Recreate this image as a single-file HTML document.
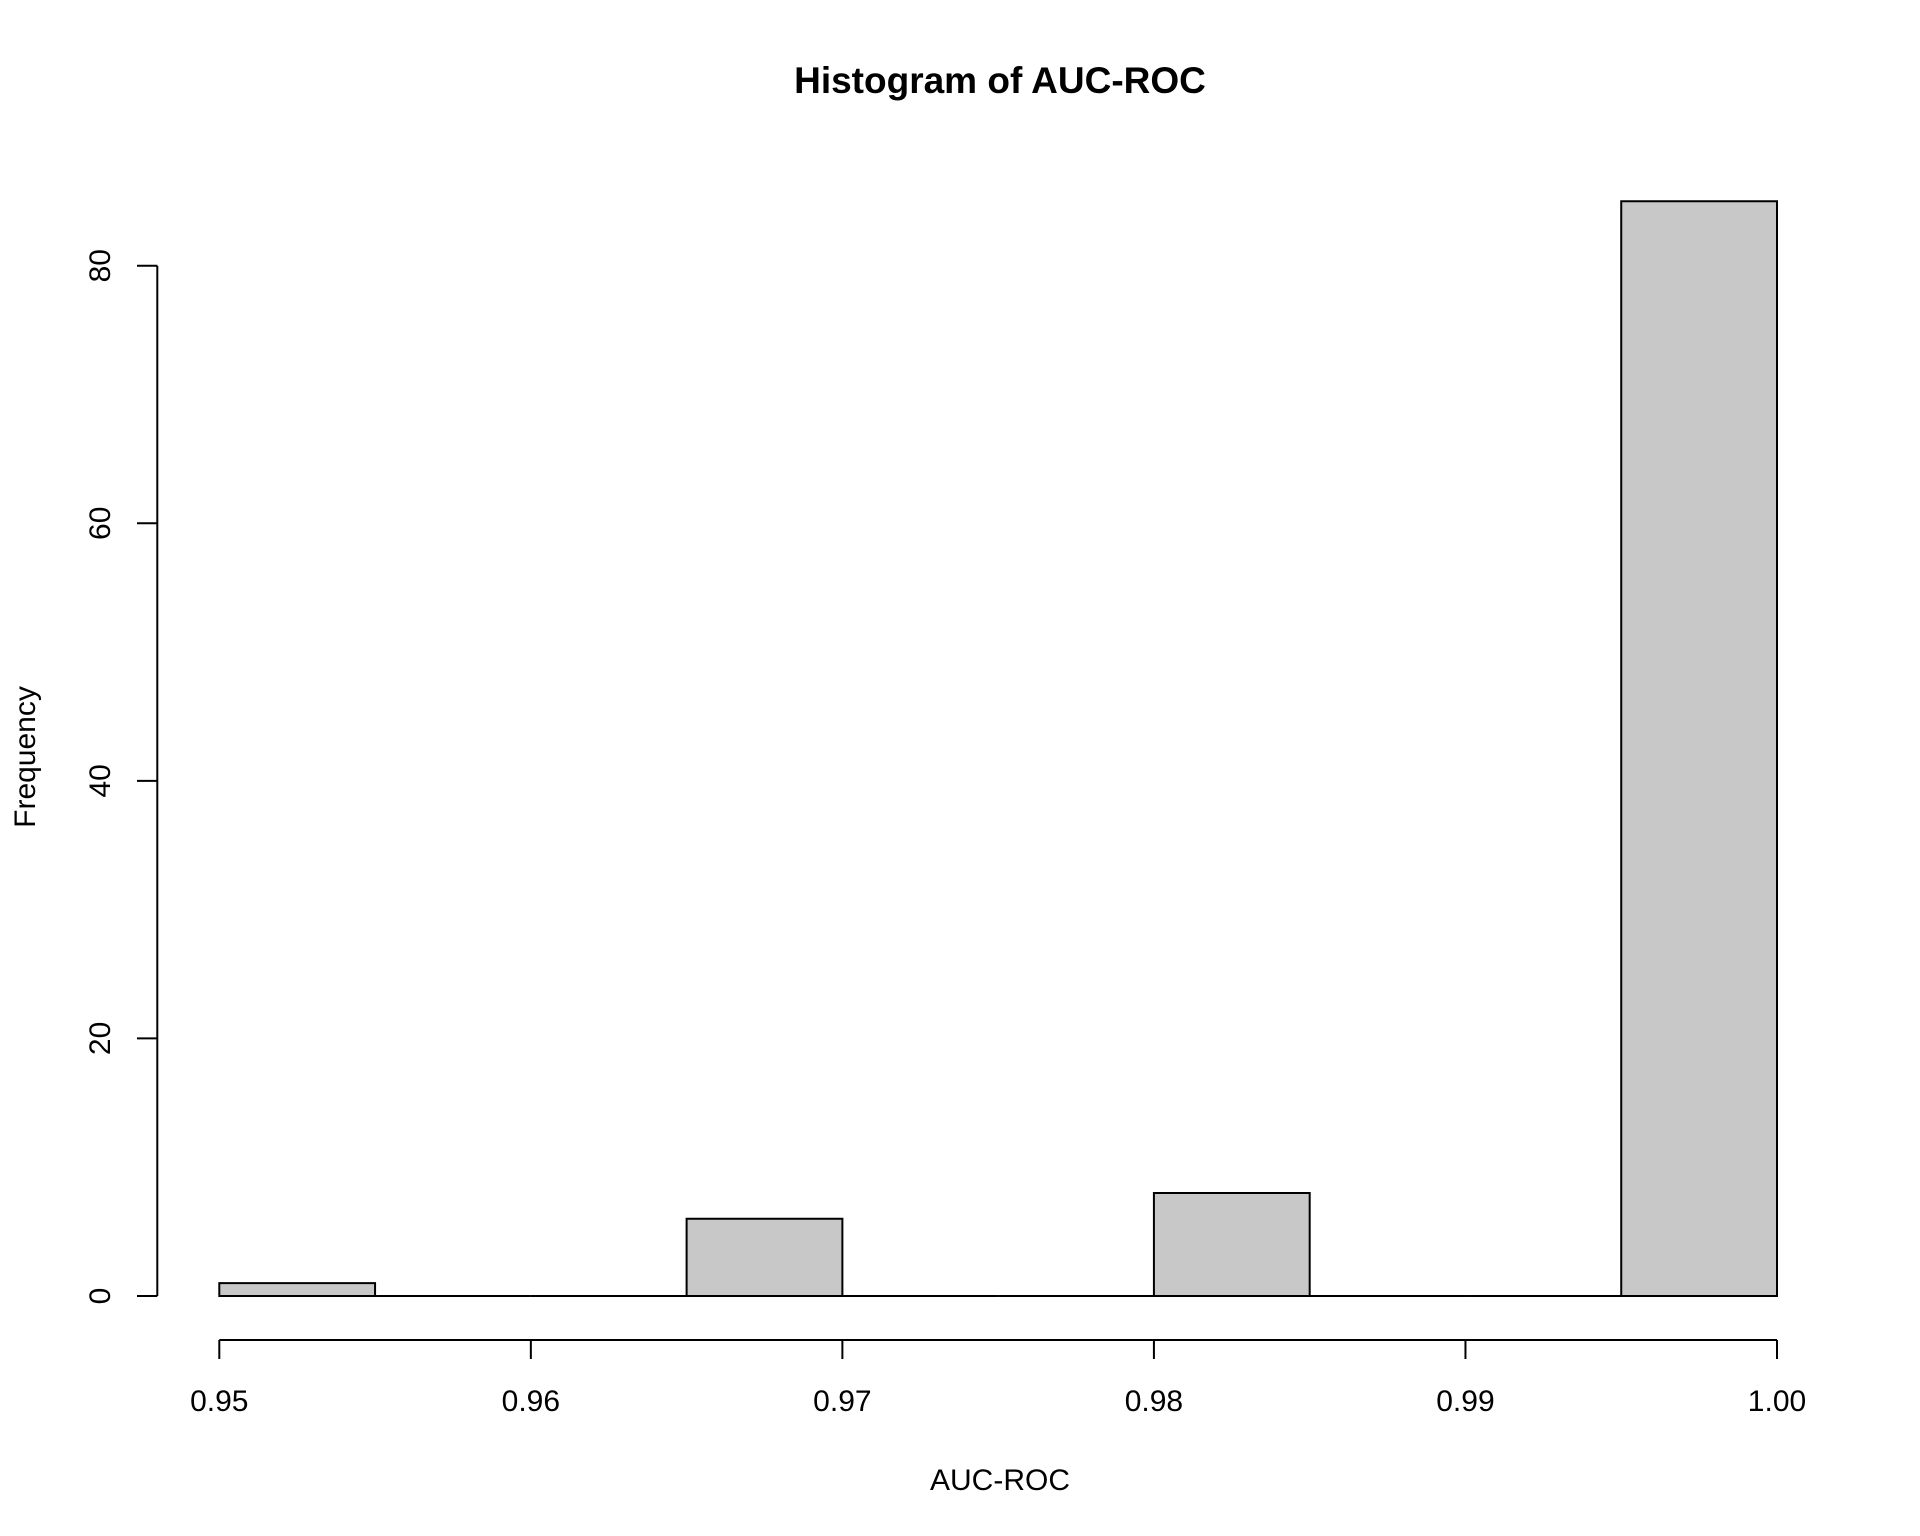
<!DOCTYPE html>
<html><head><meta charset="utf-8"><style>
html,body{margin:0;padding:0;background:#fff;}
svg{display:block;font-family:"Liberation Sans",Arial,sans-serif;}
</style></head><body>
<svg id="chart" width="1920" height="1536" viewBox="0 0 1920 1536">
<text x="1000" y="93" text-anchor="middle" font-size="37" font-weight="bold">Histogram of AUC-ROC</text>
<text x="1000" y="1490" text-anchor="middle" font-size="30">AUC-ROC</text>
<text transform="translate(35,757) rotate(-90)" text-anchor="middle" font-size="30">Frequency</text>
<g id="bars"></g><g id="xaxis"></g><g id="yaxis"></g>
</svg>
<script>
const binStarts=[0.950,0.955,0.960,0.965,0.970,0.975,0.980,0.985,0.990,0.995];
const binWidth=0.005;
const counts=[1,0,0,6,0,0,8,0,0,85];
const xTicks=[0.95,0.96,0.97,0.98,0.99,1.00];
const xTickLabels=["0.95","0.96","0.97","0.98","0.99","1.00"];
const yTicks=[0,20,40,60,80];
const yTickLabels=["0","20","40","60","80"];
const NS="http://www.w3.org/2000/svg";
function xs(v){return 219.3+(v-0.95)/0.05*(1777-219.3);}
function ys(v){return 1296-v*(1296-265.7)/80;}
function mk(t,a,p){const e=document.createElementNS(NS,t);for(const k in a)e.setAttribute(k,a[k]);p.appendChild(e);return e;}
const bars=document.getElementById('bars');
binStarts.forEach((b,i)=>{
  const x0=xs(b),x1=xs(b+binWidth),y=ys(counts[i]),y0=ys(0);
  const d='M'+x0+','+y0+' L'+x0+','+y+' L'+x1+','+y+' L'+x1+','+y0+' Z';
  const r=mk('path',{d:d,fill:'#c8c8c8',stroke:'#000','stroke-width':2},bars);
  
  
});
const xa=document.getElementById('xaxis');
const xl=mk('line',{x1:xs(xTicks[0]),x2:xs(xTicks[xTicks.length-1]),y1:1340,y2:1340,stroke:'#000','stroke-width':2},xa);


xTicks.forEach((v,i)=>{
  mk('line',{x1:xs(v),x2:xs(v),y1:1340,y2:1359,stroke:'#000','stroke-width':2},xa);
  const t=mk('text',{x:xs(v),y:1411,'text-anchor':'middle','font-size':30},xa);
  t.textContent=xTickLabels[i];
  
  
});
const ya=document.getElementById('yaxis');
const yl=mk('line',{x1:157.3,x2:157.3,y1:ys(yTicks[0]),y2:ys(yTicks[yTicks.length-1]),stroke:'#000','stroke-width':2},ya);


yTicks.forEach((v,i)=>{
  mk('line',{x1:137,x2:157.3,y1:ys(v),y2:ys(v),stroke:'#000','stroke-width':2},ya);
  const t=mk('text',{transform:'translate(110,'+ys(v)+') rotate(-90)','text-anchor':'middle','font-size':30},ya);
  t.textContent=yTickLabels[i];
  
  
});
</script>
</body></html>
